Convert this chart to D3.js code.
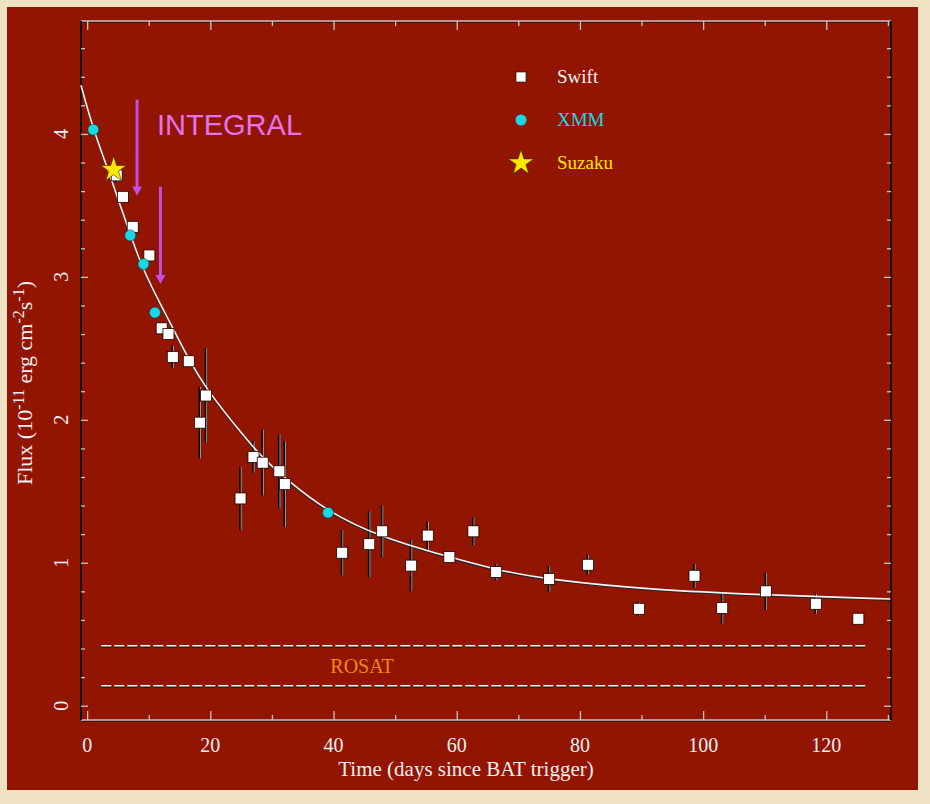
<!DOCTYPE html>
<html>
<head>
<meta charset="utf-8">
<script src="https://cdn.jsdelivr.net/npm/d3@7"></script>
<style>
  body { margin: 0; background: #efe2c4; }
  svg { display: block; }
</style>
</head>
<body>
<script>
// --- data ---
var swiftT   = [4.8, 5.8, 7.4, 10.1, 12.1, 13.2, 13.9, 16.5, 18.3, 19.3, 24.9, 27.0, 28.5, 31.2, 32.1,
                41.4, 45.8, 47.9, 52.6, 55.3, 58.8, 62.7, 66.4, 75.0, 81.3, 89.6, 98.6, 103.1, 110.2, 118.3, 125.2];
var swiftF   = [3.71, 3.56, 3.35, 3.15, 2.64, 2.60, 2.44, 2.41, 1.98, 2.17, 1.45, 1.74, 1.70, 1.64, 1.55,
                1.07, 1.13, 1.22, 0.98, 1.19, 1.04, 1.22, 0.935, 0.886, 0.986, 0.678, 0.909, 0.683, 0.80, 0.713, 0.608];
var swiftErr = [0.05, 0.03, 0.03, 0.03, 0.03, 0.03, 0.08, 0.03, 0.25, 0.33, 0.22, 0.11, 0.23, 0.26, 0.30,
                0.16, 0.23, 0.18, 0.18, 0.10, 0.03, 0.10, 0.06, 0.09, 0.07, 0.05, 0.085, 0.11, 0.13, 0.07, 0.03];

var xmmT = [1.0, 7.0, 9.15, 11.0, 39.1];
var xmmF = [4.03, 3.29, 3.09, 2.75, 1.35];

var suzakuT = [4.3];
var suzakuF = [3.75];

// fitted decay curve
var fitT = [-1, 1, 3.4, 6, 8.6, 10.8, 12.4, 16.5, 19.4, 25.9, 28.6, 32.4, 39.1, 47.6, 58.8, 66.4, 75, 91.9, 110.2, 130.4];
var fitF = [4.34, 4.03, 3.75, 3.42, 3.10, 2.90, 2.77, 2.42, 2.21, 1.86, 1.73, 1.58, 1.355, 1.18, 1.04, 0.95, 0.88, 0.81, 0.775, 0.746];

// INTEGRAL pointings (arrows)
var integralT   = [8.1, 11.9];
var integralTop = [4.24, 3.63];
var integralBot = [3.57, 2.95];

// ROSAT band
var rosatT = [2.3, 126.5];
var rosatLevels = [0.42, 0.14];

var xLabels = [0, 20, 40, 60, 80, 100, 120];
var yLabels = [0, 1, 2, 3, 4];
var legendNames = ["Swift", "XMM", "Suzaku"];

// --- layout ---
var W = 930, H = 804;
var svg = d3.select("body").append("svg").attr("width", W).attr("height", H);

svg.append("rect").attr("width", W).attr("height", H).attr("fill", "#efe2c4");
svg.append("rect").attr("x", 7).attr("y", 7).attr("width", 911).attr("height", 783).attr("fill", "#911500");

var x = d3.scaleLinear().domain([-1, 130.5]).range([81, 891]);
var y = d3.scaleLinear().domain([-0.1, 4.79]).range([720, 21]);

var serif = "'Liberation Serif', 'Times New Roman', serif";
var textCol = "#f2eef2";

// frame
var frame = svg.append("g");
frame.append("line").attr("x1", 81).attr("x2", 891).attr("y1", 721).attr("y2", 721).attr("stroke", "#111").attr("stroke-width", 1.2);
frame.append("line").attr("x1", 81).attr("x2", 891).attr("y1", 720).attr("y2", 720).attr("stroke", "#c9c2c2").attr("stroke-width", 1.3);
frame.append("line").attr("x1", 81).attr("x2", 891).attr("y1", 22).attr("y2", 22).attr("stroke", "#111").attr("stroke-width", 1.2);
frame.append("line").attr("x1", 81).attr("x2", 891).attr("y1", 21).attr("y2", 21).attr("stroke", "#c9c2c2").attr("stroke-width", 1.3);
frame.append("line").attr("x1", 81).attr("x2", 81).attr("y1", 21).attr("y2", 720).attr("stroke", "#111").attr("stroke-width", 2);
frame.append("line").attr("x1", 891).attr("x2", 891).attr("y1", 21).attr("y2", 720).attr("stroke", "#111").attr("stroke-width", 2);

// ticks
var xMinor = d3.range(0, 131, 10);
var yMinor = d3.range(0, 4.7, 0.2);

function styleTicks(sel) {
  sel.select(".domain").remove();
  sel.selectAll(".tick line").attr("stroke", "#c9c2c2").attr("stroke-width", 1.3);
}

svg.append("g").attr("transform", "translate(0,720)")
  .call(d3.axisBottom(x).tickValues(xMinor).tickFormat("").tickSizeOuter(0)
    .tickSize(-5))
  .call(styleTicks)
  .selectAll(".tick line").attr("y2", function(d) { return d % 20 === 0 ? -9 : -5; });

svg.append("g").attr("transform", "translate(0,21)")
  .call(d3.axisTop(x).tickValues(xMinor).tickFormat("").tickSizeOuter(0).tickSize(-5))
  .call(styleTicks)
  .selectAll(".tick line").attr("y2", function(d) { return d % 20 === 0 ? 9 : 5; });

svg.append("g").attr("transform", "translate(81,0)")
  .call(d3.axisLeft(y).tickValues(yMinor).tickFormat("").tickSizeOuter(0).tickSize(-4))
  .call(styleTicks)
  .selectAll(".tick line").attr("x2", function(d) { return Math.abs(d - Math.round(d)) < 1e-6 ? 7 : 4; });

svg.append("g").attr("transform", "translate(891,0)")
  .call(d3.axisRight(y).tickValues(yMinor).tickFormat("").tickSizeOuter(0).tickSize(-4))
  .call(styleTicks)
  .selectAll(".tick line").attr("x2", function(d) { return Math.abs(d - Math.round(d)) < 1e-6 ? -7 : -4; });

// tick labels
svg.append("g").selectAll("text").data(xLabels).enter().append("text")
  .attr("x", function(d) { return x(d); })
  .attr("y", 752)
  .attr("text-anchor", "middle")
  .attr("font-family", serif).attr("font-size", 20)
  .attr("fill", textCol)
  .text(function(d) { return d; });

svg.append("g").selectAll("text").data(yLabels).enter().append("text")
  .attr("transform", function(d) { return "translate(68," + y(d) + ") rotate(-90)"; })
  .attr("text-anchor", "middle")
  .attr("font-family", serif).attr("font-size", 20)
  .attr("fill", textCol)
  .text(function(d) { return d; });

// axis titles
svg.append("text")
  .attr("x", 466).attr("y", 776)
  .attr("text-anchor", "middle")
  .attr("font-family", serif).attr("font-size", 21)
  .attr("fill", textCol)
  .text("Time (days since BAT trigger)");

var yt = svg.append("text")
  .attr("transform", "translate(32,383) rotate(-90)")
  .attr("text-anchor", "middle")
  .attr("font-family", serif).attr("font-size", 22)
  .attr("fill", textCol);
yt.append("tspan").text("Flux (10");
yt.append("tspan").attr("font-size", 16).attr("dy", -8).text("-11");
yt.append("tspan").attr("dy", 8).text(" erg cm");
yt.append("tspan").attr("font-size", 16).attr("dy", -8).text("-2");
yt.append("tspan").attr("dy", 8).text("s");
yt.append("tspan").attr("font-size", 16).attr("dy", -8).text("-1");
yt.append("tspan").attr("dy", 8).text(")");

// ROSAT band
var rosat = svg.append("g");
rosatLevels.forEach(function(lv) {
  rosat.append("line")
    .attr("x1", x(rosatT[0])).attr("x2", x(rosatT[1]))
    .attr("y1", y(lv) + 1).attr("y2", y(lv) + 1)
    .attr("stroke", "#111").attr("stroke-width", 1.5).attr("stroke-dasharray", "10,3");
  rosat.append("line")
    .attr("x1", x(rosatT[0])).attr("x2", x(rosatT[1]))
    .attr("y1", y(lv)).attr("y2", y(lv))
    .attr("stroke", "#ffffff").attr("stroke-width", 1.5).attr("stroke-dasharray", "10,3");
});
svg.append("text")
  .attr("x", 362).attr("y", y(d3.mean(rosatLevels)) + 7)
  .attr("text-anchor", "middle")
  .attr("font-family", serif).attr("font-size", 20)
  .attr("fill", "#f08a10")
  .text("ROSAT");

// fit curve
var fit = fitT.map(function(t, i) { return [t, fitF[i]]; });
var line = d3.line()
  .x(function(d) { return x(d[0]); })
  .y(function(d) { return y(d[1]); })
  .curve(d3.curveBasis);

svg.append("path").datum(fit)
  .attr("d", line).attr("fill", "none")
  .attr("stroke", "#222").attr("stroke-width", 1.5)
  .attr("transform", "translate(0,1.2)");

// Swift error bars
var swift = swiftT.map(function(t, i) { return {t: t, f: swiftF[i], e: swiftErr[i]}; });
var bars = svg.append("g");
bars.selectAll("line.dk").data(swift).enter().append("line")
  .attr("x1", function(d) { return x(d.t); }).attr("x2", function(d) { return x(d.t); })
  .attr("y1", function(d) { return y(d.f + d.e); }).attr("y2", function(d) { return y(d.f - d.e); })
  .attr("stroke", "#0d0000").attr("stroke-width", 2.8);
bars.selectAll("line.lt").data(swift).enter().append("line")
  .attr("x1", function(d) { return x(d.t) + 0.7; }).attr("x2", function(d) { return x(d.t) + 0.7; })
  .attr("y1", function(d) { return y(d.f + d.e); }).attr("y2", function(d) { return y(d.f - d.e); })
  .attr("stroke", "#b8b0b0").attr("stroke-width", 0.9);

svg.append("path").datum(fit)
  .attr("d", line).attr("fill", "none")
  .attr("stroke", "#f4f4f4").attr("stroke-width", 1.6);

// INTEGRAL arrows
var arrowCol = "#c24ee6";
integralT.forEach(function(t, i) {
  var ax = x(t), y0 = y(integralTop[i]), y1 = y(integralBot[i]);
  svg.append("line").attr("x1", ax).attr("x2", ax).attr("y1", y0).attr("y2", y1 - 6)
    .attr("stroke", arrowCol).attr("stroke-width", 3);
  svg.append("path")
    .attr("d", "M" + (ax - 5) + "," + (y1 - 9) + "L" + (ax + 5) + "," + (y1 - 9) + "L" + ax + "," + y1 + "Z")
    .attr("fill", arrowCol);
});
svg.append("text")
  .attr("x", 157).attr("y", 135)
  .attr("font-family", "'Liberation Sans', Arial, sans-serif").attr("font-size", 29)
  .attr("fill", "#e472ec")
  .text("INTEGRAL");

// markers
var sq = 11;
svg.append("g").selectAll("rect").data(swift).enter().append("rect")
  .attr("x", function(d) { return x(d.t) - sq / 2; })
  .attr("y", function(d) { return y(d.f) - sq / 2; })
  .attr("width", sq).attr("height", sq)
  .attr("fill", "#ffffff").attr("stroke", "#1a0000").attr("stroke-width", 0.8);

svg.append("g").selectAll("circle").data(xmmT).enter().append("circle")
  .attr("cx", function(d) { return x(d); })
  .attr("cy", function(d, i) { return y(xmmF[i]); })
  .attr("r", 5.5)
  .attr("fill", "#18d8e6").attr("stroke", "#0a3a40").attr("stroke-width", 0.6);

var star = d3.symbol().type(d3.symbolStar).size(200);
svg.append("g").selectAll("path").data(suzakuT).enter().append("path")
  .attr("transform", function(d, i) { return "translate(" + x(d) + "," + y(suzakuF[i]) + ")"; })
  .attr("d", star)
  .attr("fill", "#ffe600").attr("stroke", "#3a2a00").attr("stroke-width", 0.6);

// legend
var legY = [77, 120, 163];
var legCol = ["#f4f4f4", "#18d8e6", "#ffe600"];
var leg = svg.append("g");
leg.append("rect").attr("x", 516).attr("y", legY[0] - 5).attr("width", 10).attr("height", 10)
  .attr("fill", "#ffffff").attr("stroke", "#1a0000").attr("stroke-width", 0.6);
leg.append("circle").attr("cx", 521).attr("cy", legY[1]).attr("r", 5.5).attr("fill", "#18d8e6");
leg.append("path").attr("transform", "translate(521," + legY[2] + ")").attr("d", star)
  .attr("fill", "#ffe600").attr("stroke", "#3a2a00").attr("stroke-width", 0.6);
leg.selectAll("text").data(legendNames).enter().append("text")
  .attr("x", 557)
  .attr("y", function(d, i) { return legY[i] + 6; })
  .attr("font-family", serif).attr("font-size", 19)
  .attr("fill", function(d, i) { return legCol[i]; })
  .text(function(d) { return d; });
</script>
</body>
</html>
